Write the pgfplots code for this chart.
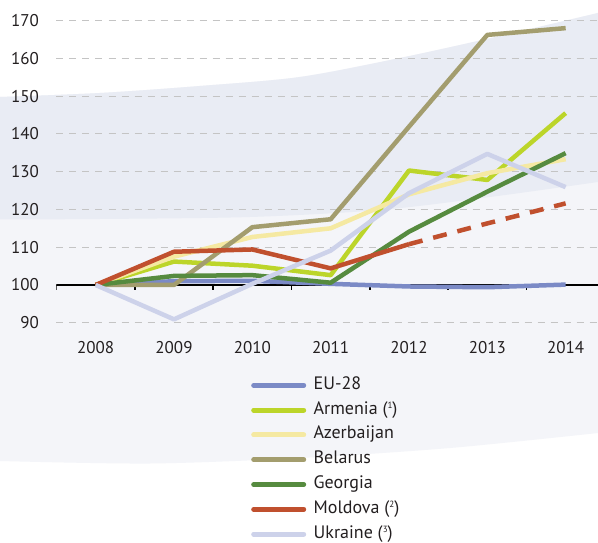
\documentclass[border=0pt]{standalone}
\usepackage{pgfplots}
\pgfplotsset{compat=1.18}
\usepackage{fontspec}
\setmainfont{PT Sans}
\newcommand{\sups}[1]{\raisebox{5.5pt}{\fontsize{9}{9}\selectfont #1}}
\definecolor{txt}{HTML}{231F20}
\definecolor{bgdark}{HTML}{E9ECF4}
\definecolor{bglight}{HTML}{F4F5F9}
\definecolor{eu}{HTML}{7B8AC6}
\definecolor{arm}{HTML}{BCD52A}
\definecolor{aze}{HTML}{F5E9A2}
\definecolor{bel}{HTML}{A39D6E}
\definecolor{geo}{HTML}{568B3F}
\definecolor{mol}{HTML}{C0502E}
\definecolor{ukr}{HTML}{CDD2EA}
\definecolor{gridc}{HTML}{C4C4C4}
\begin{document}
\begin{tikzpicture}[x=1pt,y=1pt]
% background (pixel y flipped: Y = 542 - y)
\fill[white] (0,0) rectangle (598,542);
\fill[bglight] plot[smooth] coordinates {(0,445) (100,449) (200,456) (300,465) (400,484) (500,506) (598,529)}
  -- plot[smooth] coordinates {(598,109) (450,94) (300,84) (150,78.5) (0,81)} -- cycle;
\fill[bgdark] plot[smooth] coordinates {(0,445) (100,449) (200,456) (300,465) (400,484) (500,506) (598,529)}
  -- plot[smooth] coordinates {(598,360) (490,345) (380,332) (250,325) (100,323) (0,322.5)} -- cycle;
\begin{axis}[
  at={(56.5pt,211.7pt)}, anchor=south west,
  scale only axis, width=541.5pt, height=317.3pt,
  xmin=2007.5, xmax=2014.413, ymin=88, ymax=172,
  axis line style={draw=none},
  major tick length=0pt,
  xtick={2008,2009,2010,2011,2012,2013,2014},
  xticklabels={2008,2009,2010,2011,2012,2013,2014},
  ytick={90,100,...,170},
  ymajorgrids,
  grid style={gridc, line width=1.2pt, dash pattern=on 7pt off 6pt},
  /pgf/number format/assume math mode=true,
  ticklabel style={font=\fontsize{17}{20}\selectfont, text=txt},
  xticklabel style={anchor=base, inner sep=0pt, yshift=-22.7pt},
  yticklabel style={anchor=east, inner sep=0pt, xshift=-17.5pt},
  legend cell align=left,
  legend style={at={(0.3592,-0.1445)}, anchor=north west, draw=none, fill=none,
    inner sep=0pt, row sep=6.8pt,
    nodes={inner sep=1pt, text height=12pt, text depth=4pt, text=txt},
    font=\fontsize{18}{21}\selectfont,
    /tikz/every odd column/.append style={column sep=6.5pt}},
  legend image code/.code={\draw[#1, line width=5pt, line cap=round, solid] (2.5pt,0pt) -- (52.5pt,0pt);},
  every axis plot/.append style={line width=4.5pt, line join=round},
]
\draw[black, line width=1.7pt] (axis cs:2007.5,100) -- (axis cs:2014.413,100);
\draw[black, line width=1.4pt]
  (axis cs:2007.5,100) -- ++(0pt,-5pt)
  (axis cs:2008.5,100) -- ++(0pt,-5pt)
  (axis cs:2009.5,100) -- ++(0pt,-5pt)
  (axis cs:2010.5,100) -- ++(0pt,-5pt)
  (axis cs:2011.5,100) -- ++(0pt,-5pt)
  (axis cs:2012.5,100) -- ++(0pt,-5pt)
  (axis cs:2013.5,100) -- ++(0pt,-5pt);
\addplot[eu] coordinates {(2008,100) (2009,101.0) (2010,101.1) (2011,100.3) (2012,99.6) (2013,99.4) (2014,100.1)};
\addlegendentry{EU-28}
\addplot[arm] coordinates {(2008,100) (2009,106.2) (2010,105.1) (2011,102.6) (2012,130.3) (2013,127.8) (2014,145.5)};
\addlegendentry{Armenia (\sups{1})}
\addplot[aze] coordinates {(2008,100) (2009,107.5) (2010,112.7) (2011,115.0) (2012,124.0) (2013,129.6) (2014,133.3)};
\addlegendentry{Azerbaijan}
\addplot[bel] coordinates {(2008,100) (2009,100.0) (2010,115.3) (2011,117.4) (2012,141.9) (2013,166.2) (2014,168.0)};
\addlegendentry{Belarus}
\addplot[geo] coordinates {(2008,100) (2009,102.4) (2010,102.6) (2011,100.6) (2012,114.1) (2013,124.7) (2014,134.9)};
\addlegendentry{Georgia}
\addplot[mol] coordinates {(2008,100) (2009,108.8) (2010,109.4) (2011,104.4) (2012,110.8)};
\addlegendentry{Moldova (\sups{2})}
\addplot[mol, dash pattern=on 14pt off 11pt, forget plot] coordinates {(2012,110.8) (2013,116.3) (2014,121.6)};
\addplot[ukr] coordinates {(2008,100) (2009,90.9) (2010,100.3) (2011,109.1) (2012,124.3) (2013,134.7) (2014,125.9)};
\addlegendentry{Ukraine (\sups{3})}
\end{axis}
\pgfresetboundingbox
\useasboundingbox (0,0) rectangle (598,542);
\end{tikzpicture}
\end{document}
